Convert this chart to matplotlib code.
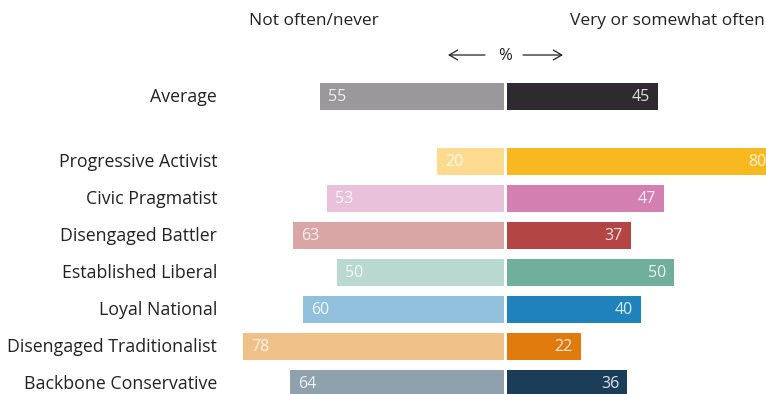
import matplotlib.pyplot as plt

# Survey data: share answering each way, by segment
groups = ["Average", "Progressive Activist", "Civic Pragmatist", "Disengaged Battler",
          "Established Liberal", "Loyal National", "Disengaged Traditionalist",
          "Backbone Conservative"]
not_often = [55, 20, 53, 63, 50, 60, 78, 64]
often = [45, 80, 47, 37, 50, 40, 22, 36]

light_colors = ["#9a989a", "#fcdb8f", "#eac1da", "#d9a5a5", "#b9d8d0", "#92c1de", "#f0c089", "#8fa1ac"]
dark_colors = ["#2e2a30", "#f8b920", "#d47fb1", "#b44545", "#6faf9b", "#1f82bc", "#e17a0d", "#1c3d57"]

plt.rcParams['font.family'] = ['Open Sans', 'DejaVu Sans']

W, H = 766, 394
fig = plt.figure(figsize=(W / 100, H / 100), dpi=100)
ax = fig.add_axes([0, 0, 1, 1])

# row positions: the average sits apart from the segments
ypos = [0] + [1.757 + i for i in range(len(groups) - 1)]
gap = 0.45
bar_h = 0.73

for y, name, lv, rv, lc, dc in zip(ypos, groups, not_often, often, light_colors, dark_colors):
    ax.barh(y, -lv, left=-gap, height=bar_h, color=lc, linewidth=0)
    ax.barh(y, rv, left=gap, height=bar_h, color=dc, linewidth=0)
    ax.text(-gap - lv + 2.4, y + 0.02, str(lv), ha="left", va="center", color="white",
            alpha=0.85, fontsize=11.5)
    ax.text(gap + rv - 2.4, y + 0.02, str(rv), ha="right", va="center", color="white",
            alpha=0.85, fontsize=11.5)
    ax.text(217 / W, y + 0.02, name, transform=ax.get_yaxis_transform(), ha="right",
            va="center", fontsize=12.8, color="#222222")

ax.set_xlim(-505.5 / 3.345, (W - 505.5) / 3.345)
ax.set_ylim((H - 96.5) / 37, -96.5 / 37)
ax.axis("off")

fig.text(249 / W, 1 - 21 / H, "Not often/never", ha="left", va="center",
         fontsize=12.5, color="#222222")
fig.text(765 / W, 1 - 21 / H, "Very or somewhat often", ha="right", va="center",
         fontsize=12.5, color="#222222")
fig.text(505.5 / W, 1 - 56 / H, "%", ha="center", va="center",
         fontsize=12, color="#222222")
# direction arrows either side of the % sign
for x0, x1 in [(485, 448), (523, 563)]:
    fig.add_artist(plt.matplotlib.patches.FancyArrowPatch(
        (x0 / W, 1 - 55 / H), (x1 / W, 1 - 55 / H), transform=fig.transFigure,
        arrowstyle="->,head_length=6,head_width=3.5", color="#222222", lw=0.9,
        shrinkA=0, shrinkB=0))

fig.savefig("out.png", dpi=100)
